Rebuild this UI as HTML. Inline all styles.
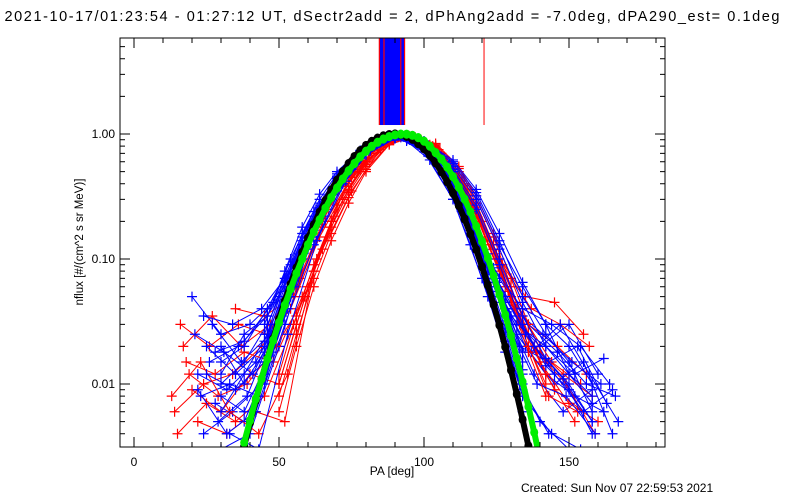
<!DOCTYPE html>
<html><head><meta charset="utf-8"><style>
body{margin:0;background:#fff;width:800px;height:500px;overflow:hidden}
svg{display:block}
text{font-family:"Liberation Sans",sans-serif;fill:#000}
</style></head><body>
<svg id="chart" width="800" height="500">
<text x="392" y="21" font-size="14.5" text-anchor="middle" textLength="775">2021-10-17/01:23:54 - 01:27:12 UT, dSectr2add = 2, dPhAng2add = -7.0deg, dPA290_est=  0.1deg</text>
<defs><clipPath id="clip"><rect x="120" y="38" width="545" height="409"/></clipPath></defs>
<g id="plot" clip-path="url(#clip)"></g>
<g id="axes"></g>
<text x="392" y="475" font-size="12" text-anchor="middle">PA [deg]</text>
<text transform="translate(83,242) rotate(-90)" font-size="11.5" text-anchor="middle">nflux [#/(cm^2 s sr MeV)]</text>
<text x="521" y="492" font-size="12">Created: Sun Nov 07 22:59:53 2021</text>
</svg>
<script>
const xTicks=[0,50,100,150];
const yTicks=[1,0.1,0.01];
const yTickLabels=["1.00","0.10","0.01"];
const blueCurves=[
[[22,0.012],[32,0.009],[42,0.015],[52,0.04],[62,0.15],[72,0.42],[82,0.8],[92,0.95],[102,0.75],[112,0.35],[122,0.09],[132,0.025],[142,0.012],[152,0.008],[162,0.006]],
[[25,0.02],[35,0.012],[45,0.02],[55,0.07],[65,0.25],[75,0.55],[85,0.9],[95,0.9],[105,0.6],[115,0.22],[125,0.06],[135,0.02],[145,0.01],[155,0.015],[165,0.004]],
[[28,0.007],[38,0.005],[48,0.018],[58,0.1],[68,0.3],[78,0.7],[88,0.97],[98,0.85],[108,0.45],[118,0.14],[128,0.04],[138,0.012],[148,0.006],[158,0.009]],
[[20,0.05],[30,0.025],[40,0.03],[50,0.05],[60,0.18],[70,0.38],[80,0.75],[90,0.93],[100,0.78],[110,0.4],[120,0.12],[130,0.035],[140,0.02],[150,0.03],[160,0.012]],
[[24,0.004],[34,0.006],[44,0.01],[54,0.05],[64,0.2],[74,0.5],[84,0.85],[94,0.92],[104,0.65],[114,0.25],[124,0.05],[134,0.008],[144,0.004],[154,0.003]],
[[26,0.015],[36,0.02],[46,0.035],[56,0.09],[66,0.28],[76,0.6],[86,0.92],[96,0.88],[106,0.52],[116,0.2],[126,0.07],[136,0.03],[146,0.018],[156,0.01],[166,0.008]],
[[30,0.003],[40,0.004],[50,0.02],[60,0.12],[70,0.4],[80,0.78],[90,0.96],[100,0.72],[110,0.3],[120,0.07],[130,0.015],[140,0.005],[150,0.003]],
[[21,0.025],[31,0.018],[41,0.012],[51,0.035],[61,0.16],[71,0.45],[81,0.82],[91,0.94],[101,0.72],[111,0.33],[121,0.1],[131,0.04],[141,0.025],[151,0.015],[161,0.01]],
[[23,0.008],[33,0.01],[43,0.008],[53,0.04],[63,0.19],[73,0.48],[83,0.86],[93,0.95],[103,0.68],[113,0.28],[123,0.075],[133,0.02],[143,0.015],[153,0.02],[163,0.007]],
[[27,0.03],[37,0.015],[47,0.025],[57,0.11],[67,0.32],[77,0.65],[87,0.95],[97,0.86],[107,0.5],[117,0.17],[127,0.045],[137,0.018],[147,0.03],[157,0.012],[167,0.005]],
[[29,0.005],[39,0.008],[49,0.03],[59,0.14],[69,0.36],[79,0.72],[89,0.96],[99,0.8],[109,0.42],[119,0.13],[129,0.03],[139,0.01],[149,0.008],[159,0.004]],
[[22,0.009],[32,0.004],[42,0.006],[52,0.03],[62,0.13],[72,0.4],[82,0.8],[92,0.94],[102,0.73],[112,0.3],[122,0.08],[132,0.03],[142,0.02],[152,0.012],[162,0.016]],
[[25,0.012],[35,0.009],[45,0.015],[55,0.06],[65,0.22],[75,0.52],[85,0.88],[95,0.9],[105,0.58],[115,0.21],[125,0.065],[135,0.025],[145,0.012],[155,0.006],[165,0.009]],
[[28,0.018],[38,0.022],[48,0.045],[58,0.13],[68,0.34],[78,0.68],[88,0.95],[98,0.82],[108,0.47],[118,0.16],[128,0.05],[138,0.02],[148,0.011],[158,0.005]],
[[33,0.004],[43,0.003],[53,0.025],[63,0.14],[73,0.42],[83,0.82],[93,0.95],[103,0.66],[113,0.24],[123,0.055],[133,0.01],[143,0.004]],
[[24,0.035],[34,0.03],[44,0.04],[54,0.08],[64,0.24],[74,0.56],[84,0.9],[94,0.9],[104,0.6],[114,0.26],[124,0.085],[134,0.04],[144,0.03],[154,0.02],[164,0.01]],
[[45,0.02],[52,0.06],[58,0.14],[64,0.27],[70,0.45],[78,0.7],[86,0.92],[94,0.93],[102,0.72],[110,0.42],[116,0.22],[122,0.1],[128,0.04],[134,0.015]],
[[45,0.015],[52,0.05],[58,0.12],[64,0.24],[70,0.42],[78,0.68],[86,0.9],[94,0.92],[102,0.68],[110,0.36],[116,0.18],[122,0.075],[128,0.028],[134,0.01]],
[[45,0.025],[52,0.07],[58,0.16],[64,0.3],[70,0.48],[78,0.72],[86,0.93],[94,0.9],[102,0.66],[110,0.34],[116,0.16],[122,0.065],[128,0.022],[134,0.008]],
[[45,0.01],[52,0.04],[58,0.1],[64,0.21],[70,0.38],[78,0.64],[86,0.88],[94,0.94],[102,0.74],[110,0.44],[116,0.24],[122,0.11],[128,0.045],[134,0.018]],
[[45,0.03],[52,0.08],[58,0.18],[64,0.33],[70,0.5],[78,0.74],[86,0.93],[94,0.88],[102,0.62],[110,0.3],[116,0.13],[122,0.05],[128,0.018],[134,0.006]],
[[45,0.012],[52,0.045],[58,0.11],[64,0.22],[70,0.4],[78,0.66],[86,0.89],[94,0.93],[102,0.7],[110,0.38],[116,0.2],[122,0.085],[128,0.032],[134,0.012]],
[[45,0.018],[52,0.055],[58,0.13],[64,0.26],[70,0.44],[78,0.69],[86,0.91],[94,0.91],[102,0.67],[110,0.35],[116,0.17],[122,0.07],[128,0.026],[134,0.009]],
[[45,0.022],[52,0.065],[58,0.15],[64,0.28],[70,0.46],[78,0.71],[86,0.92],[94,0.92],[102,0.7],[110,0.4],[116,0.21],[122,0.09],[128,0.035],[134,0.013]],
[[30,0.01],[38,0.015],[46,0.03],[54,0.08],[62,0.2],[70,0.4],[80,0.72],[90,0.92],[100,0.85],[110,0.55],[118,0.3],[126,0.12],[134,0.045],[142,0.02],[150,0.012],[158,0.008]],
[[30,0.02],[38,0.01],[46,0.02],[54,0.06],[62,0.17],[70,0.37],[80,0.7],[90,0.93],[100,0.87],[110,0.6],[118,0.34],[126,0.14],[134,0.05],[142,0.025],[150,0.015],[158,0.006]],
[[30,0.006],[38,0.012],[46,0.025],[54,0.07],[62,0.19],[70,0.39],[80,0.71],[90,0.92],[100,0.84],[110,0.52],[118,0.27],[126,0.1],[134,0.035],[142,0.016],[150,0.01],[158,0.005]],
[[30,0.015],[38,0.02],[46,0.04],[54,0.09],[62,0.22],[70,0.42],[80,0.74],[90,0.93],[100,0.86],[110,0.58],[118,0.32],[126,0.13],[134,0.06],[142,0.03],[150,0.02],[158,0.01]],
[[30,0.008],[38,0.006],[46,0.015],[54,0.05],[62,0.15],[70,0.35],[80,0.68],[90,0.92],[100,0.88],[110,0.62],[118,0.36],[126,0.16],[134,0.065],[142,0.03],[150,0.012],[158,0.007]],
[[30,0.012],[38,0.025],[46,0.035],[54,0.1],[62,0.24],[70,0.44],[80,0.75],[90,0.93],[100,0.83],[110,0.5],[118,0.25],[126,0.09],[134,0.03],[142,0.014],[150,0.009],[158,0.004]]
];
const redCurves=[
[[14,0.006],[24,0.01],[34,0.012],[44,0.02],[54,0.04],[64,0.15],[74,0.4],[84,0.8],[94,0.97],[104,0.78],[114,0.4],[124,0.12],[134,0.035],[144,0.015],[154,0.01]],
[[16,0.03],[26,0.02],[36,0.03],[46,0.025],[56,0.06],[66,0.2],[76,0.5],[86,0.88],[96,0.95],[106,0.7],[116,0.3],[126,0.08],[136,0.03],[146,0.02],[156,0.012]],
[[15,0.004],[25,0.007],[35,0.005],[45,0.008],[55,0.03],[65,0.12],[75,0.35],[85,0.75],[95,0.96],[105,0.75],[115,0.36],[125,0.1],[135,0.025],[145,0.009],[155,0.006]],
[[18,0.015],[28,0.012],[38,0.018],[48,0.015],[58,0.05],[68,0.2],[78,0.52],[88,0.9],[98,0.92],[108,0.6],[118,0.22],[128,0.06],[138,0.02],[148,0.012],[158,0.008]],
[[20,0.009],[30,0.006],[40,0.012],[50,0.01],[60,0.06],[70,0.27],[80,0.6],[90,0.93],[100,0.88],[110,0.55],[120,0.2],[130,0.05],[140,0.015],[150,0.007],[160,0.005]],
[[17,0.02],[27,0.035],[37,0.02],[47,0.03],[57,0.07],[67,0.25],[77,0.55],[87,0.9],[97,0.94],[107,0.66],[117,0.28],[127,0.09],[137,0.04],[147,0.03],[157,0.02]],
[[22,0.005],[32,0.004],[42,0.006],[52,0.005],[62,0.08],[72,0.3],[82,0.7],[92,0.97],[102,0.82],[112,0.45],[122,0.15],[132,0.04],[142,0.012],[152,0.005]],
[[19,0.012],[29,0.008],[39,0.01],[49,0.02],[59,0.05],[69,0.22],[79,0.58],[89,0.92],[99,0.9],[109,0.58],[119,0.2],[129,0.055],[139,0.018],[149,0.01],[159,0.004]],
[[35,0.04],[45,0.035],[55,0.05],[65,0.18],[75,0.45],[85,0.85],[95,0.93],[105,0.7],[115,0.32],[125,0.11],[135,0.05],[145,0.045],[155,0.025]],
[[13,0.008],[23,0.015],[33,0.006],[43,0.004],[53,0.012],[63,0.1],[73,0.38],[83,0.78],[93,0.96],[103,0.8],[113,0.42],[123,0.13],[133,0.03],[143,0.008],[153,0.006]],
[[50,0.01],[56,0.03],[62,0.08],[68,0.18],[74,0.34],[80,0.55],[88,0.85],[96,0.96],[104,0.8],[112,0.5],[118,0.28],[124,0.13],[130,0.05],[136,0.02],[142,0.01]],
[[50,0.008],[56,0.025],[62,0.07],[68,0.16],[74,0.31],[80,0.52],[88,0.83],[96,0.95],[104,0.82],[112,0.53],[118,0.3],[124,0.15],[130,0.06],[136,0.025],[142,0.012]],
[[50,0.012],[56,0.035],[62,0.09],[68,0.2],[74,0.36],[80,0.57],[88,0.86],[96,0.96],[104,0.78],[112,0.47],[118,0.26],[124,0.12],[130,0.045],[136,0.018],[142,0.008]],
[[50,0.006],[56,0.02],[62,0.06],[68,0.14],[74,0.28],[80,0.5],[88,0.82],[96,0.95],[104,0.84],[112,0.55],[118,0.32],[124,0.16],[130,0.07],[136,0.03],[142,0.015]]
];
const blackPA=[38,40,42,44,46,48,50,52,54,56,58,60,62,64,66,68,70,72,74,76,78,80,82,84,86,88,90,92,94,96,98,100,102,104,106,108,110,112,114,116,118,120,122,124,126,128,130,132,134,136];
const blackVals=[0.0032,0.0049,0.0074,0.011,0.016,0.023,0.033,0.046,0.063,0.085,0.113,0.147,0.188,0.237,0.293,0.357,0.427,0.50,0.58,0.66,0.736,0.81,0.873,0.927,0.966,0.99,1.0,0.989,0.957,0.907,0.84,0.762,0.676,0.587,0.499,0.415,0.337,0.268,0.209,0.159,0.119,0.0867,0.0619,0.0432,0.0296,0.0198,0.0129,0.0083,0.0052,0.0032];
const greenPA=[38,40,42,44,46,48,50,52,54,56,58,60,62,64,66,68,70,72,74,76,78,80,82,84,86,88,90,92,94,96,98,100,102,104,106,108,110,112,114,116,118,120,122,124,126,128,130,132,134,136,138,140];
const greenVals=[0.0034,0.0051,0.0076,0.011,0.0158,0.0224,0.031,0.0427,0.0575,0.0766,0.100,0.13,0.165,0.206,0.255,0.31,0.37,0.437,0.508,0.581,0.656,0.728,0.797,0.859,0.912,0.954,0.983,0.998,0.997,0.976,0.935,0.877,0.80,0.71,0.63,0.543,0.456,0.375,0.302,0.238,0.183,0.138,0.102,0.0735,0.0519,0.0358,0.0243,0.016,0.0104,0.0066,0.0041,0.0025];
const bandPA=[84.6,93.3];
const bandRedPA=[84.6,86.2,92.0,93.3];
const redSpikePA=[120.7];
const spikeBase=1.18;

const NS="http://www.w3.org/2000/svg";
const X=pa=>134+pa*2.9;
const Y=v=>134-125*Math.log10(v);
const plot=document.getElementById('plot');
const axes=document.getElementById('axes');
function mk(tag,parent,attrs){const e=document.createElementNS(NS,tag);for(const k in attrs)e.setAttribute(k,attrs[k]);parent.appendChild(e);return e;}

const band=mk('rect',plot,{x:X(bandPA[0]),y:0,width:X(bandPA[1])-X(bandPA[0]),height:Y(spikeBase),fill:'#0000ff'});


bandRedPA.forEach(p=>{const l=mk('line',plot,{x1:X(p),x2:X(p),y1:0,y2:Y(spikeBase),stroke:'#ff0000','stroke-width':1.2});

});
redSpikePA.forEach(p=>{const l=mk('line',plot,{x1:X(p),x2:X(p),y1:0,y2:Y(spikeBase),stroke:'#ff0000','stroke-width':1});

});

function drawCurve(pts,color,name){
  const g=mk('g',plot,{});
  
  
  mk('polyline',g,{points:pts.map(p=>X(p[0])+','+Y(p[1])).join(' '),fill:'none',stroke:color,'stroke-width':1});
  pts.forEach(p=>{const x=X(p[0]),y=Y(p[1]);
    mk('path',g,{d:`M${x-5},${y}H${x+5}M${x},${y-5}V${y+5}`,stroke:color,'stroke-width':1.2});});
}
const maxN=Math.max(blueCurves.length,redCurves.length);
for(let i=0;i<maxN;i++){
  if(redCurves[i])drawCurve(redCurves[i],'#ff0000','red-series-curve');
  if(blueCurves[i])drawCurve(blueCurves[i],'#0000ff','blue-series-curve');
}
function dots(pas,vals,color,name){
  const g=mk('g',plot,{});
  
  
  mk('polyline',g,{points:pas.map((p,i)=>X(p)+','+Y(vals[i])).join(' '),fill:'none',stroke:color,'stroke-width':6,'stroke-linecap':'round','stroke-linejoin':'round'});
  pas.forEach((p,i)=>mk('ellipse',g,{cx:X(p),cy:Y(vals[i]),rx:4,ry:4.6,fill:color}));
}
dots(blackPA,blackVals,'#000000','black-fit-dots');
dots(greenPA,greenVals,'#00ee00','green-fit-dots');

const fr=mk('rect',axes,{x:120,y:38,width:545,height:409,fill:'none',stroke:'#000','stroke-width':1});


for(let pa=0;pa<=180;pa+=10){
  const major=pa%50===0,len=major?10:5,x=X(pa);
  mk('line',axes,{x1:x,x2:x,y1:447,y2:447-len,stroke:'#000'});
  mk('line',axes,{x1:x,x2:x,y1:38,y2:38+len,stroke:'#000'});
}
xTicks.forEach(t=>{const tx=mk('text',axes,{x:X(t),y:466,'font-size':12,'text-anchor':'middle'});tx.textContent=t;

});
for(let e=-3;e<=0;e++)for(let m=1;m<=9;m++){
  const v=m*Math.pow(10,e);const y=Y(v);if(y<38||y>447)continue;
  const len=m===1?10:5;
  mk('line',axes,{x1:120,x2:120+len,y1:y,y2:y,stroke:'#000'});
  mk('line',axes,{x1:665,x2:665-len,y1:y,y2:y,stroke:'#000'});
}
yTicks.forEach((t,i)=>{const tx=mk('text',axes,{x:115,y:Y(t)+4,'font-size':12,'text-anchor':'end'});tx.textContent=yTickLabels[i];

});
</script>
</body></html>
